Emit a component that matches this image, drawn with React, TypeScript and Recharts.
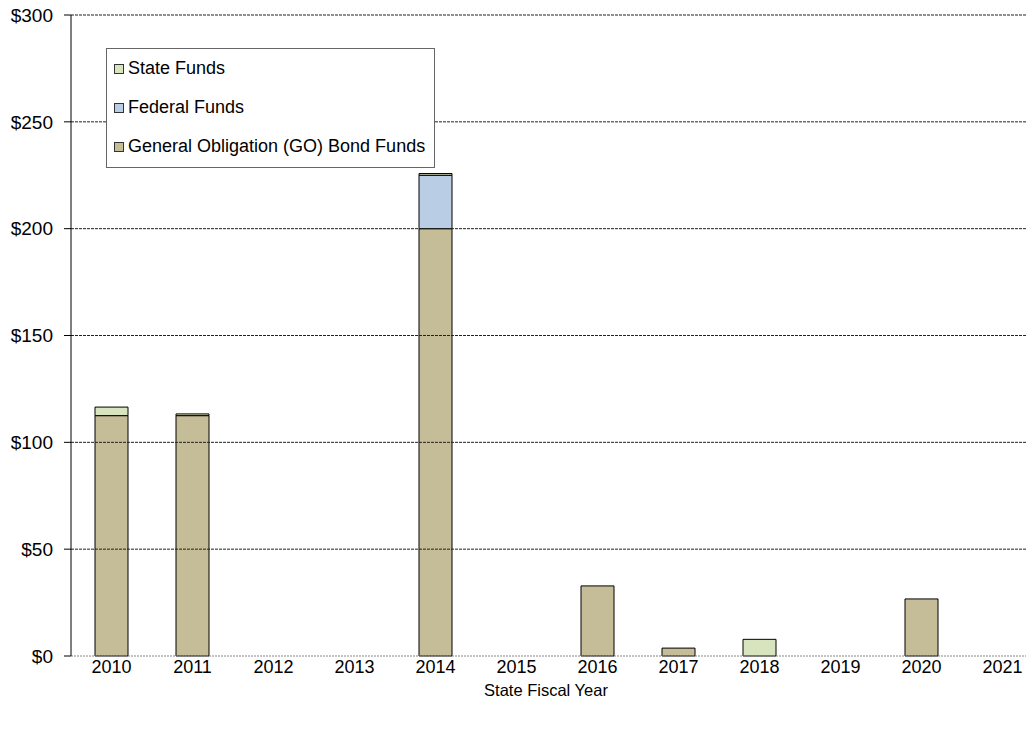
import React from "react";
import { BarChart, Bar, XAxis, YAxis, ReferenceLine, Legend } from "recharts";

const years = ["2010", "2011", "2012", "2013", "2014", "2015", "2016", "2017", "2018", "2019", "2020", "2021"];
const goBondFunds = [112.5, 112.5, 0, 0, 200, 0, 32.8, 3.7, 0, 0, 26.7, 0];
const federalFunds = [0, 0, 0, 0, 25, 0, 0, 0, 0, 0, 0, 0];
const stateFunds = [4, 0.8, 0, 0, 0.8, 0, 0, 0, 7.8, 0, 0, 0];
const yTicks = [0, 50, 100, 150, 200, 250, 300];
const legendOrder = ["State Funds", "Federal Funds", "General Obligation (GO) Bond Funds"];

const data = years.map((y, i) => ({
  year: y,
  go: goBondFunds[i],
  federal: federalFunds[i],
  state: stateFunds[i],
}));

const FONT = "'Liberation Sans', Arial, sans-serif";

const LegendBox = (props: any) => {
  const items = [...(props.payload || [])].sort(
    (a: any, b: any) => legendOrder.indexOf(a.value) - legendOrder.indexOf(b.value)
  );
  return (
    <div
      style={{
        width: 329,
        height: 120,
        border: "1px solid #666",
        background: "#fff",
        fontFamily: FONT,
        fontSize: 18,
        color: "#000",
        boxSizing: "border-box",
        paddingTop: 0,
      }}
    >
      {items.map((it: any) => (
        <div key={it.value} style={{ display: "flex", alignItems: "center", height: 39, paddingLeft: 7 }}>
          <span
            style={{
              display: "inline-block",
              width: 10,
              height: 10,
              background: it.color,
              border: "1px solid #333",
              marginRight: 4,
              boxSizing: "border-box",
            }}
          />
          <span>{it.value}</span>
        </div>
      ))}
    </div>
  );
};

export default function App() {
  return (
    <div style={{ width: 1034, height: 729, overflow: "hidden", margin: "-8px -8px -8px -8px" }}>
      <BarChart
        width={1048}
        height={729}
        data={data}
        margin={{ top: 15, right: 5, left: 0, bottom: 3 }}
        barSize={33}
      >
        {yTicks
          .filter((t) => t > 0)
          .map((t) => (
            <ReferenceLine key={t} y={t} stroke="#222" strokeDasharray="3 1" strokeWidth={1} />
          ))}
        <XAxis
          dataKey="year"
          height={70}
          tickLine={false}
          tickSize={0}
          tickMargin={4}
          axisLine={{ stroke: "#888", strokeDasharray: "2 1" }}
          tick={{ fill: "#000", fontSize: 18, fontFamily: FONT }}
          label={{
            value: "State Fiscal Year",
            position: "insideBottom",
            offset: 30,
            dx: -11,
            fill: "#000",
            fontSize: 16.5,
            fontFamily: FONT,
          }}
        />
        <YAxis
          width={71}
          domain={[0, 300]}
          ticks={yTicks}
          interval={0}
          tickFormatter={(v: number) => `$${v}`}
          axisLine={{ stroke: "#000" }}
          tickLine={{ stroke: "#000" }}
          tickSize={7}
          tickMargin={11}
          tick={{ fill: "#000", fontSize: 19, fontFamily: FONT }}
        />
        <Legend
          layout="vertical"
          align="center"
          verticalAlign="middle"
          content={<LegendBox />}
          wrapperStyle={{ left: 106, top: 48, width: 329, height: 120 }}
        />
        <Bar dataKey="go" name="General Obligation (GO) Bond Funds" stackId="a" fill="#C4BD97" stroke="#000" strokeWidth={1} isAnimationActive={false} />
        <Bar dataKey="federal" name="Federal Funds" stackId="a" fill="#B9CDE5" stroke="#000" strokeWidth={1} isAnimationActive={false} />
        <Bar dataKey="state" name="State Funds" stackId="a" fill="#D7E4BD" stroke="#000" strokeWidth={1} isAnimationActive={false} />
      </BarChart>
    </div>
  );
}
